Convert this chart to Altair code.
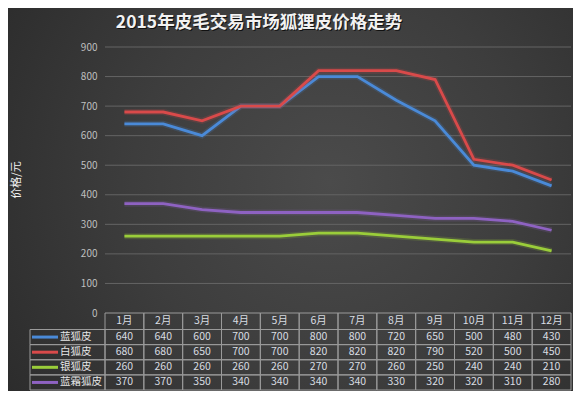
import altair as alt
import pandas as pd

title_text = "2015年皮毛交易市场狐狸皮价格走势"
y_title = "价格/元"
months = ["1月", "2月", "3月", "4月", "5月", "6月", "7月", "8月", "9月", "10月", "11月", "12月"]
series = ["蓝狐皮", "白狐皮", "银狐皮", "蓝霜狐皮"]
blue_fox = [640, 640, 600, 700, 700, 800, 800, 720, 650, 500, 480, 430]
white_fox = [680, 680, 650, 700, 700, 820, 820, 820, 790, 520, 500, 450]
silver_fox = [260, 260, 260, 260, 260, 270, 270, 260, 250, 240, 240, 210]
frost_fox = [370, 370, 350, 340, 340, 340, 340, 330, 320, 320, 310, 280]
y_ticks = [0, 100, 200, 300, 400, 500, 600, 700, 800, 900]
colors = ["#4a8ad8", "#d94a4a", "#9acd3a", "#8e62c2"]

values = [blue_fox, white_fox, silver_fox, frost_fox]

W, H = 466, 266
FONT = "Noto Sans CJK SC"

rows = []
for si, (s, vals) in enumerate(zip(series, values)):
    for mi, v in enumerate(vals):
        rows.append({"series": s, "m": mi + 1, "value": v})
df = pd.DataFrame(rows)

cells = []
for mi, mlab in enumerate(months):
    cells.append({"x1": mi + 0.5, "x2": mi + 1.5, "r0": 0, "r1": 1, "rc": 0.5, "text": mlab})
for si, vals in enumerate(values):
    for mi, v in enumerate(vals):
        cells.append({"x1": mi + 0.5, "x2": mi + 1.5, "r0": si + 1, "r1": si + 2,
                      "rc": si + 1.5, "text": str(v)})
df_cells = pd.DataFrame(cells)
df_cells["xc"] = (df_cells["x1"] + df_cells["x2"]) / 2

df_leg = pd.DataFrame({"series": series,
                       "r0": [i + 1 for i in range(len(series))],
                       "r1": [i + 2 for i in range(len(series))],
                       "rc": [i + 1.5 for i in range(len(series))]})

xscale = alt.Scale(domain=[0.5, 12.5], nice=False, zero=False)
yscale = alt.Scale(domain=[0, 900], nice=False)
tscale = alt.Scale(domain=[0, 1, 5], range=[H, H + 16.5, H + 77], nice=False, zero=False)
cscale = alt.Scale(domain=series, range=colors)

one = pd.DataFrame({"t": [title_text], "y": [y_title]})

bg = alt.Chart(one).mark_rect(
    fill=alt.RadialGradient(
        gradient="radial",
        stops=[alt.GradientStop(color="#4b4b4b", offset=0),
               alt.GradientStop(color="#3d3d3d", offset=0.45),
               alt.GradientStop(color="#272727", offset=1)],
        x1=0.57, y1=0.47, x2=0.57, y2=0.47, r1=0, r2=0.78),
).encode(x=alt.value(-97), x2=alt.value(W + 2), y=alt.value(-39), y2=alt.value(H + 78))

grid = alt.Chart(pd.DataFrame({"v": y_ticks[1:]})).mark_rule(
    color="#646464", strokeWidth=1
).encode(y=alt.Y("v:Q", scale=yscale, axis=None), x=alt.value(0), x2=alt.value(W))

axis_layer = alt.Chart(pd.DataFrame({"v": y_ticks})).mark_point(opacity=0).encode(
    y=alt.Y("v:Q", scale=yscale,
            axis=alt.Axis(values=y_ticks, grid=False, domain=False, ticks=False,
                          labelColor="#bfbfbf", labelFont=FONT, labelFontSize=10,
                          labelPadding=8, title=None, zindex=1)),
    x=alt.value(0),
)

line_layers = []
for s in series:
    base = alt.Chart(df).transform_filter(alt.datum.series == s)
    glow = base.mark_line(strokeWidth=6, opacity=0.18).encode(
        x=alt.X("m:Q", scale=xscale, axis=None),
        y=alt.Y("value:Q", scale=yscale, axis=None),
        color=alt.Color("series:N", scale=cscale, legend=None),
    )
    ln = base.mark_line(strokeWidth=2.8).encode(
        x=alt.X("m:Q", scale=xscale, axis=None),
        y=alt.Y("value:Q", scale=yscale, axis=None),
        color=alt.Color("series:N", scale=cscale, legend=None),
    )
    line_layers += [glow, ln]

cell_rect = alt.Chart(df_cells).mark_rect(
    fill="#000000", fillOpacity=0.0, stroke="#9a9a9a", strokeWidth=1
).encode(
    x=alt.X("x1:Q", scale=xscale, axis=None), x2="x2:Q",
    y=alt.Y("r0:Q", scale=tscale, axis=None), y2="r1:Q",
)
cell_text = alt.Chart(df_cells).mark_text(
    font=FONT, fontSize=10.5, color="#d9dde2", baseline="middle", align="center"
).encode(
    x=alt.X("xc:Q", scale=xscale, axis=None),
    y=alt.Y("rc:Q", scale=tscale, axis=None),
    text="text:N",
)
leg_rect = alt.Chart(df_leg).mark_rect(
    fill="#000000", fillOpacity=0.0, stroke="#9a9a9a", strokeWidth=1
).encode(
    x=alt.value(-75), x2=alt.value(0),
    y=alt.Y("r0:Q", scale=tscale, axis=None), y2="r1:Q",
)
leg_line = alt.Chart(df_leg).mark_rule(strokeWidth=3).encode(
    x=alt.value(-73), x2=alt.value(-47),
    y=alt.Y("rc:Q", scale=tscale, axis=None),
    color=alt.Color("series:N", scale=cscale, legend=None),
)
leg_text = alt.Chart(df_leg).mark_text(
    font=FONT, fontSize=10.5, color="#e6e6e6", align="left", baseline="middle"
).encode(
    x=alt.value(-45),
    y=alt.Y("rc:Q", scale=tscale, axis=None),
    text="series:N",
)

title_shadow = alt.Chart(one).mark_text(
    font=FONT, fontSize=17.5, fontWeight="bold", color="#111111", align="center", baseline="middle"
).encode(x=alt.value(155), y=alt.value(-23), text="t:N")
title = alt.Chart(one).mark_text(
    font=FONT, fontSize=17.5, fontWeight="bold", color="#f2f2f2", align="center", baseline="middle"
).encode(x=alt.value(154), y=alt.value(-24), text="t:N")
ytitle = alt.Chart(one).mark_text(
    font=FONT, fontSize=11, color="#f2f2f2", align="center", baseline="middle", angle=270
).encode(x=alt.value(-88), y=alt.value(133), text="y:N")

chart = alt.layer(
    bg, grid, axis_layer, *line_layers, cell_rect, cell_text, leg_rect, leg_line, leg_text,
    title_shadow, title, ytitle
).resolve_scale(y="independent").properties(
    width=W, height=H,
    autosize=alt.AutoSizeParams(type="none"),
    padding={"left": 97, "top": 39, "right": 2, "bottom": 78},
    background="#2b2b2b",
).configure_view(stroke=None)

chart.save("out.html", embed_options={"renderer": "svg", "actions": False})
